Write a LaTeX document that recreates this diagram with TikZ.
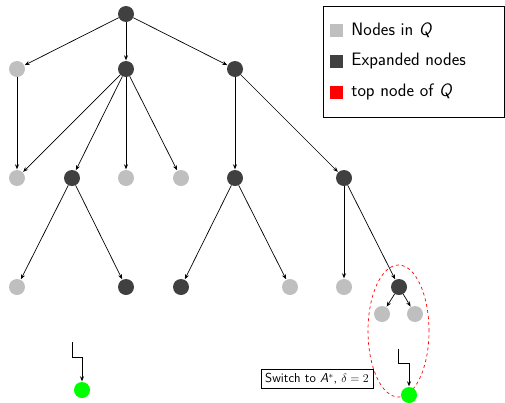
\documentclass[tikz,border=0pt]{standalone}
\definecolor{qgray}{RGB}{191, 191, 191}
\definecolor{expdark}{RGB}{64, 64, 64}
\definecolor{topred}{RGB}{255, 0, 0}
\definecolor{goalgreen}{RGB}{0, 255, 0}
\usepackage{tikz}
\usetikzlibrary{arrows.meta, positioning, shadows}

\begin{document}
\begin{tikzpicture}[
  x=1pt, y=-1pt,
  qnode/.style={circle, fill=qgray, minimum size=16pt, inner sep=0pt},
  enode/.style={circle, fill=expdark, minimum size=16pt, inner sep=0pt},
  gnode/.style={circle, fill=goalgreen, minimum size=16pt, inner sep=0pt},
  edge/.style={-{Stealth[length=5pt, width=4pt]}, line width=0.7pt, shorten >=0.5pt},
  keysq/.style={minimum size=13pt, inner sep=0pt},
  keytext/.style={anchor=west, font=\sffamily\fontsize{18}{21}\selectfont, inner sep=0pt},
  switchbox/.style={draw, fill=white, font=\sffamily\fontsize{13}{15}\selectfont, inner sep=4pt, drop shadow={shadow xshift=0.6pt, shadow yshift=-0.8pt, opacity=0.6}}
]
  \useasboundingbox (0,0) rectangle (505,402);

  % tree
  \node[enode] (r) at (126,14) {};
  \node[qnode] (a1) at (17,69) {};
  \node[enode] (a2) at (126,69) {};
  \node[enode] (a3) at (235,69) {};
  \node[qnode] (b1) at (17,178) {};
  \node[enode] (b2) at (72,178) {};
  \node[qnode] (b3) at (126,178) {};
  \node[qnode] (b4) at (181,178) {};
  \node[enode] (b5) at (235,178) {};
  \node[enode] (b6) at (344,178) {};
  \node[qnode] (c1) at (17,287) {};
  \node[enode] (c2) at (126,287) {};
  \node[enode] (c3) at (181,287) {};
  \node[qnode] (c4) at (290,287) {};
  \node[qnode] (c5) at (344,287) {};
  \node[enode] (c6) at (399,287) {};
  \node[qnode] (d1) at (382,314) {};
  \node[qnode] (d2) at (415,314) {};

  \foreach \s/\t in {r/a1, r/a2, r/a3, a1/b1, a2/b1, a2/b2, a2/b3, a2/b4,
                     a3/b5, a3/b6, b2/c1, b2/c2, b5/c3, b5/c4, b6/c5, b6/c6,
                     c6/d1, c6/d2}
    \draw[edge] (\s) -- (\t);

  % top of Q
  \draw[topred, dashed, line width=0.7pt] (398.5,331) ellipse [x radius=30.5pt, y radius=66pt];

  % goals
  \node[gnode] (g1) at (82,390) {};
  \node[gnode] (g2) at (409,395) {};
  \coordinate (s1) at (72,342);
  \coordinate (s2) at (398,349);
  \draw[edge] (s1) -- ++(0,15) -| (g1);
  \draw[edge] (s2) -- ++(0,14) -| (g2);

  \node[switchbox] (switch) at (317,379) {Switch to \textit{A}$^*$, $\delta = 2$};

  % legend
  \node[draw, fill=white, minimum width=181pt, minimum height=111pt, inner sep=0pt] (legend) at (414,61.5) {};
  \node[keysq, fill=qgray] (kq) at (336.5,30) {};
  \node[keysq, fill=expdark] (ke) at (336.5,61) {};
  \node[keysq, fill=topred] (kt) at (336.5,92) {};
  \node[keytext, right=8pt of kq] (lq) {Nodes in \textit{Q}};
  \node[keytext, right=8pt of ke] (le) {Expanded nodes};
  \node[keytext, right=8pt of kt] (lt) {top node of \textit{Q}};
\end{tikzpicture}
\end{document}
